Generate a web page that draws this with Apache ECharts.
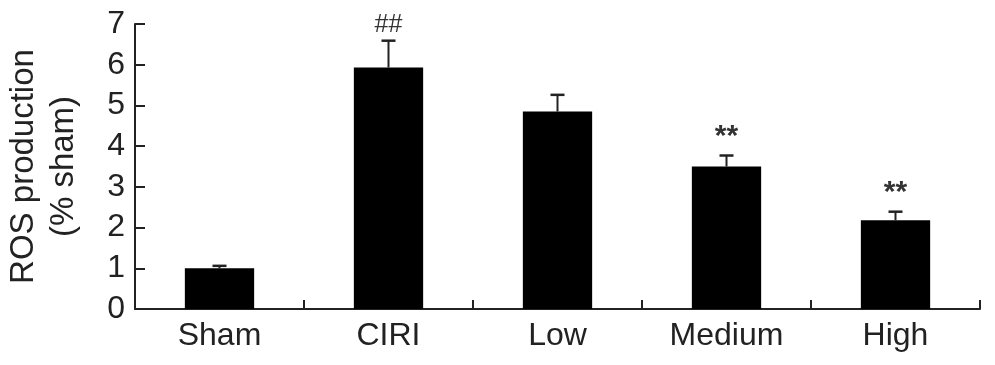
<!DOCTYPE html>
<html>
<head>
<meta charset="utf-8">
<script src="https://cdn.jsdelivr.net/npm/echarts@6/dist/echarts.min.js"></script>
<style>
html,body{margin:0;padding:0;background:#fff;}
#chart{width:995px;height:365px;}
</style>
</head>
<body>
<div id="chart"></div>
<script>
var categories = ['Sham', 'CIRI', 'Low', 'Medium', 'High'];
var values = [1.0, 5.93, 4.85, 3.5, 2.18];
var errors = [0.06, 0.66, 0.41, 0.27, 0.21];
var marks = ['', '##', '', '**', '**'];
var yTicks = [0, 1, 2, 3, 4, 5, 6, 7];

var FONT = '"Liberation Sans", Arial, sans-serif';
var chart = echarts.init(document.getElementById('chart'), null, {renderer: 'canvas'});

var errData = categories.map(function (c, i) { return [i, values[i], errors[i], marks[i]]; });

var option = {
  animation: false,
  backgroundColor: '#fff',
  grid: {left: 135, right: 15, top: 24, bottom: 56, containLabel: false, outerBoundsMode: 'none'},
  xAxis: {
    type: 'category',
    data: categories,
    boundaryGap: true,
    axisLine: {lineStyle: {color: '#222', width: 2}},
    axisTick: {show: true, inside: true, length: 9, alignWithLabel: false, lineStyle: {color: '#222', width: 2}},
    axisLabel: {color: '#222', fontSize: 32, fontFamily: FONT, margin: 11}
  },
  yAxis: {
    type: 'value',
    min: yTicks[0],
    max: yTicks[yTicks.length - 1],
    interval: 1,
    name: 'ROS production\n(% sham)',
    nameLocation: 'middle',
    nameGap: 51,
    nameRotate: 90,
    nameTextStyle: {color: '#222', fontSize: 33, fontFamily: FONT, lineHeight: 40},
    splitLine: {show: false},
    axisLine: {show: true, lineStyle: {color: '#222', width: 2}},
    axisTick: {show: true, inside: true, length: 10, lineStyle: {color: '#222', width: 2}},
    axisLabel: {color: '#222', fontSize: 32, fontFamily: FONT, margin: 10}
  },
  series: [
    {
      type: 'bar',
      data: values,
      barWidth: '41%',
      itemStyle: {color: '#000'},
      z: 2
    },
    {
      type: 'custom',
      data: errData,
      z: 3,
      renderItem: function (params, api) {
        var x = api.value(0);
        var v = api.value(1);
        var e = api.value(2);
        var m = api.value(3);
        var base = api.coord([x, v]);
        var top = api.coord([x, v + e]);
        var half = 7;
        var children = [
          {type: 'line', shape: {x1: base[0], y1: base[1], x2: top[0], y2: top[1]}, style: {stroke: '#222', lineWidth: 2}},
          {type: 'line', shape: {x1: top[0] - half, y1: top[1], x2: top[0] + half, y2: top[1]}, style: {stroke: '#222', lineWidth: 2.5}}
        ];
        if (m) {
          var isHash = m.indexOf('#') >= 0;
          children.push({
            type: 'text',
            style: {
              text: m,
              x: top[0],
              y: isHash ? top[1] - 3 : top[1] - 4,
              textAlign: 'center',
              textVerticalAlign: 'bottom',
              fill: '#333',
              font: (isHash ? '25px ' : 'bold 30px ') + FONT
            }
          });
        }
        return {type: 'group', children: children};
      }
    }
  ]
};
chart.setOption(option);
</script>
</body>
</html>
